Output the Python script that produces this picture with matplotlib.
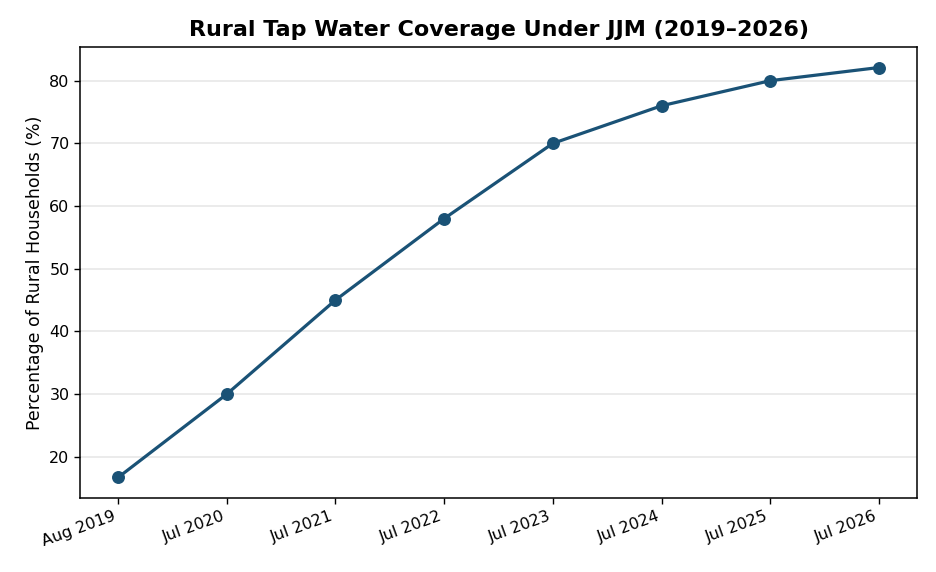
import matplotlib
matplotlib.use("Agg")
import matplotlib.pyplot as plt

labels = ["Aug 2019", "Jul 2020", "Jul 2021", "Jul 2022", "Jul 2023", "Jul 2024", "Jul 2025", "Jul 2026"]
coverage = [16.7, 30, 45, 58, 70, 76, 80, 82.1]

fig, ax = plt.subplots(figsize=(9.36, 5.72), dpi=100)
x = list(range(len(labels)))
ax.plot(x, coverage, color="#1a5276", linewidth=2.3, marker="o", markersize=8.3)
ax.set_xticks(x)
ax.set_xticklabels(labels, rotation=20, ha="right", fontsize=11.5)
ax.tick_params(axis="y", labelsize=11.5)
ax.tick_params(length=4, width=1)
ax.set_ylabel("Percentage of Rural Households (%)", fontsize=12.5)
ax.set_title("Rural Tap Water Coverage Under JJM (2019\u20132026)", fontsize=16, fontweight="bold", pad=8)
ax.yaxis.grid(True, color="#e6e6e6", linewidth=1.1)
ax.set_axisbelow(True)
for s in ax.spines.values():
    s.set_linewidth(1.1)
fig.subplots_adjust(left=0.0855, right=0.9797, top=0.9178, bottom=0.1294)
fig.savefig("out.png", dpi=100)
